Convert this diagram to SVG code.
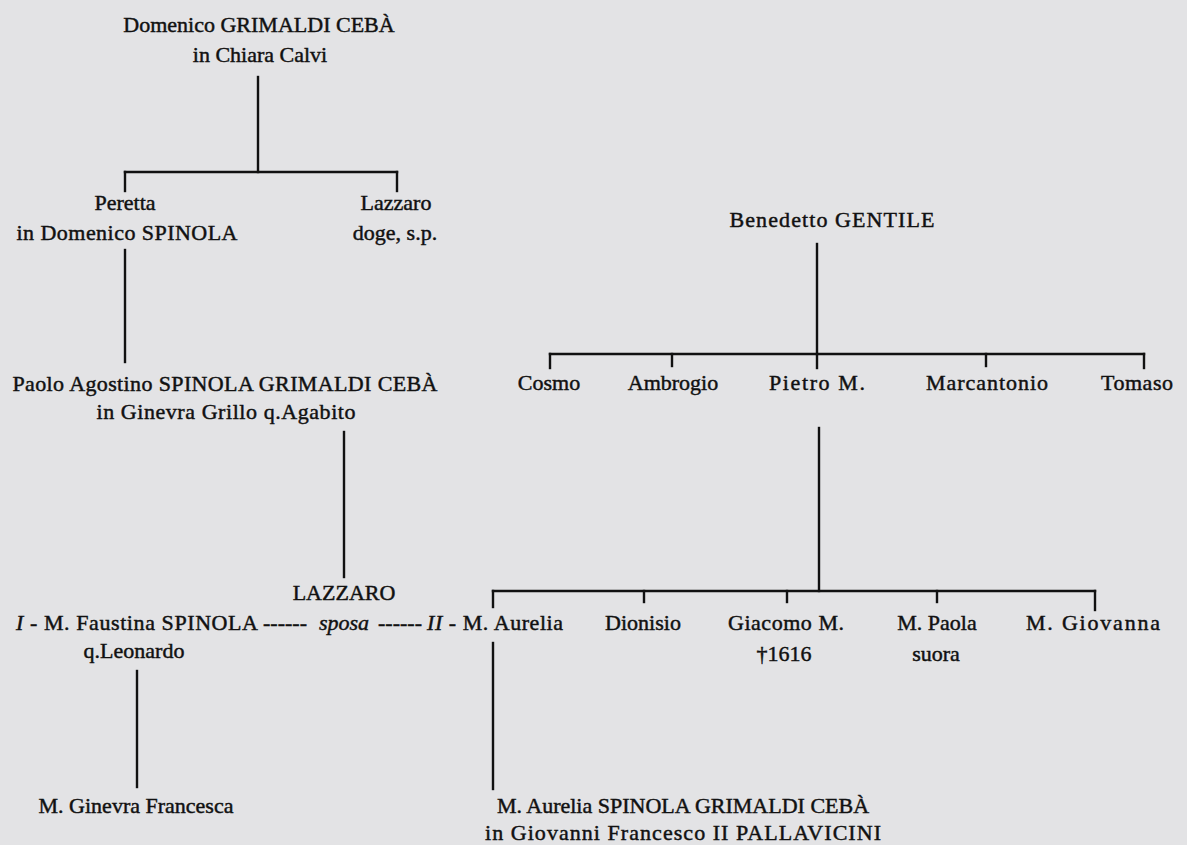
<svg xmlns="http://www.w3.org/2000/svg" width="1187" height="845" viewBox="0 0 1187 845">
<style>
text{font-family:"Liberation Serif","Times New Roman",serif;font-size:22px;fill:#111;stroke:#111;stroke-width:0.45;text-anchor:middle}
.l{text-anchor:start}
.i{font-style:italic}
.c line{stroke:#111;stroke-width:2.4;stroke-linecap:square}
</style>
<rect width="1187" height="845" fill="#e3e3e5"/>
<g class="c" id="connectors">
<line x1="258" y1="77" x2="258" y2="172"/>
<line x1="125" y1="172" x2="397" y2="172"/>
<line x1="125" y1="172" x2="125" y2="191"/>
<line x1="397" y1="172" x2="397" y2="191"/>
<line x1="125" y1="250" x2="125" y2="362"/>
<line x1="344" y1="432" x2="344" y2="577"/>
<line x1="817" y1="244" x2="817" y2="354"/>
<line x1="550" y1="354" x2="1144" y2="354"/>
<line x1="550" y1="354" x2="550" y2="368"/>
<line x1="672" y1="354" x2="672" y2="366"/>
<line x1="817" y1="354" x2="817" y2="368"/>
<line x1="986" y1="354" x2="986" y2="366"/>
<line x1="1144" y1="354" x2="1144" y2="368"/>
<line x1="819" y1="428" x2="819" y2="591"/>
<line x1="493" y1="591" x2="1095" y2="591"/>
<line x1="493" y1="591" x2="493" y2="607"/>
<line x1="644" y1="591" x2="644" y2="602"/>
<line x1="787" y1="591" x2="787" y2="602"/>
<line x1="937" y1="591" x2="937" y2="602"/>
<line x1="1095" y1="591" x2="1095" y2="610"/>
<line x1="493" y1="643" x2="493" y2="789"/>
<line x1="137" y1="671" x2="137" y2="787"/>
</g>
<g id="domenico"><text x="259" y="32">Domenico GRIMALDI CEBÀ</text><text x="260" y="62">in Chiara Calvi</text></g>
<g id="peretta"><text x="125" y="210">Peretta</text><text x="127" y="240" textLength="221">in Domenico SPINOLA</text></g>
<g id="lazzaro-doge"><text x="396" y="210">Lazzaro</text><text x="395" y="240">doge, s.p.</text></g>
<g id="benedetto"><text x="832" y="227" textLength="205">Benedetto GENTILE</text></g>
<g id="cosmo"><text x="549" y="390">Cosmo</text></g>
<g id="ambrogio"><text x="673" y="390">Ambrogio</text></g>
<g id="pietro"><text x="817" y="390" textLength="96">Pietro M.</text></g>
<g id="marcantonio"><text x="987" y="390" textLength="122">Marcantonio</text></g>
<g id="tomaso"><text x="1137" y="390" textLength="72">Tomaso</text></g>
<g id="paolo"><text x="225" y="391" textLength="425">Paolo Agostino SPINOLA GRIMALDI CEBÀ</text><text x="226" y="419" textLength="259">in Ginevra Grillo q.Agabito</text></g>
<g id="lazzaro"><text x="344" y="600">LAZZARO</text></g>
<g id="marriage">
<text class="l" x="16" y="630" textLength="242"><tspan class="i">I</tspan> - M. Faustina SPINOLA</text>
<text x="285" y="630">------</text>
<text class="i" x="344" y="630">sposa</text>
<text x="400" y="630">------</text>
<text class="l" x="427" y="630" textLength="136"><tspan class="i">II</tspan> - M. Aurelia</text>
<text x="134" y="658">q.Leonardo</text></g>
<g id="dionisio"><text x="643" y="630">Dionisio</text></g>
<g id="giacomo"><text x="786" y="630" textLength="116">Giacomo M.</text><text x="784" y="661">†1616</text></g>
<g id="paola"><text x="937" y="630">M. Paola</text><text x="936" y="661">suora</text></g>
<g id="giovanna"><text x="1093" y="630" textLength="134">M. Giovanna</text></g>
<g id="ginevra"><text x="136" y="813">M. Ginevra Francesca</text></g>
<g id="aurelia"><text x="683" y="813">M. Aurelia SPINOLA GRIMALDI CEBÀ</text><text x="683" y="840" textLength="396">in Giovanni Francesco II PALLAVICINI</text></g>
</svg>
